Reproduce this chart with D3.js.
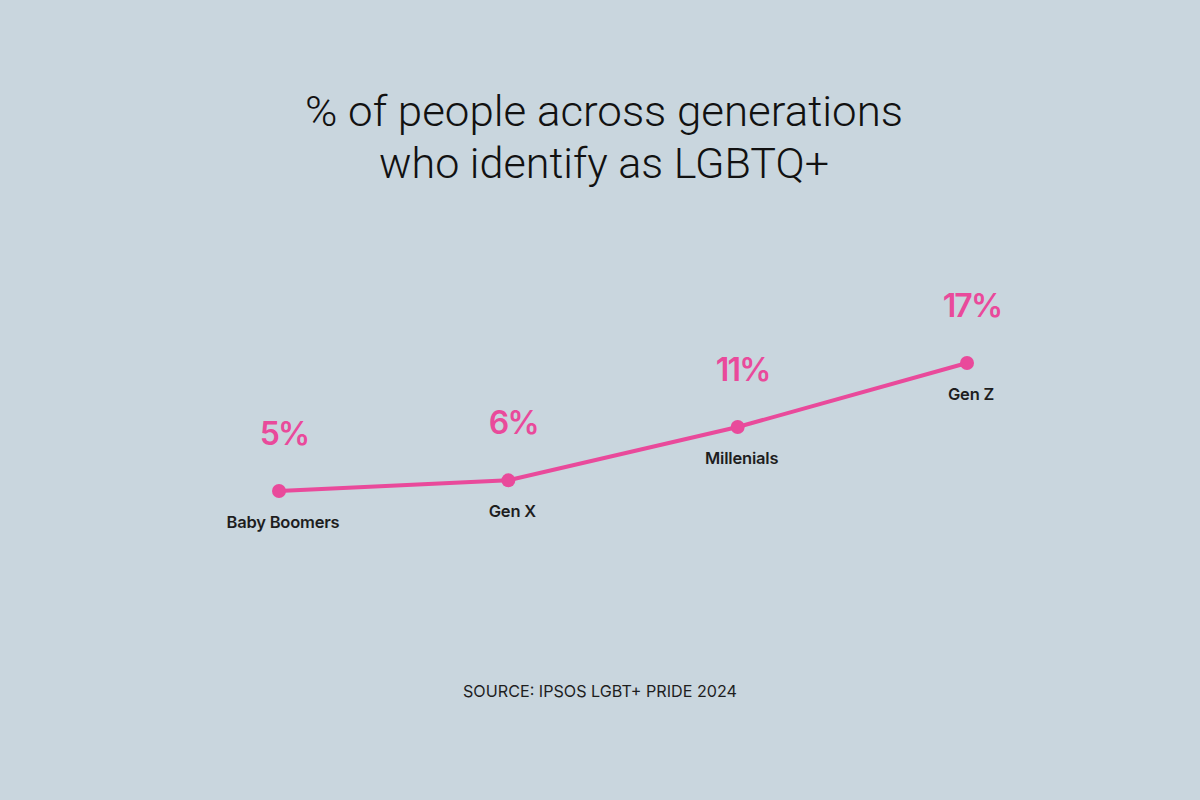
<!DOCTYPE html>
<html>
<head>
<meta charset="utf-8">
<script src="https://cdn.jsdelivr.net/npm/d3@7"></script>
<style>
  html, body { margin: 0; padding: 0; background: #c9d6de; }
  svg { display: block; }
</style>
</head>
<body>
<div id="chart"></div>
<script>
// Share identifying as LGBTQ+ by generation
const generations = ['Baby Boomers', 'Gen X', 'Millenials', 'Gen Z'];
const shares = [5, 6, 11, 17];
const titleLines = ['% of people across generations', 'who identify as LGBTQ+'];
const sourceText = 'SOURCE: IPSOS LGBT+ PRIDE 2024';

const W = 1200, H = 800;
const pink = '#e94a9b';
const ink = '#1e1e1e';

const data = generations.map((g, i) => ({ name: g, value: shares[i] }));

const svg = d3.select('#chart').append('svg')
    .attr('width', W)
    .attr('height', H);

svg.append('rect')
    .attr('width', W)
    .attr('height', H)
    .attr('fill', '#c9d6de');

// Title
const title = svg.append('g').attr('class', 'title');
const titleWidths = [598, 450];
titleLines.forEach((t, i) => {
    title.append('text')
        .attr('x', 604)
        .attr('y', 126 + i * 52)
        .attr('text-anchor', 'middle')
        .attr('textLength', titleWidths[i])
        .attr('lengthAdjust', 'spacingAndGlyphs')
        .style('font-family', 'Roboto, "Liberation Sans", sans-serif')
        .style('font-size', '43px')
        .style('font-weight', '300')
        .style('fill', '#111')
        .text(t);
});

// Scales
const xScale = d3.scalePoint()
    .domain(generations)
    .range([279, 967]);

const yScale = d3.scaleLinear()
    .domain([5, 17])
    .range([491, 363]);

// Line
const line = d3.line()
    .x(d => xScale(d.name))
    .y(d => yScale(d.value));

svg.append('path')
    .datum(data)
    .attr('d', line)
    .attr('fill', 'none')
    .attr('stroke', pink)
    .attr('stroke-width', 4)
    .attr('stroke-linejoin', 'round');

// Points
svg.selectAll('.dot')
    .data(data)
    .enter()
    .append('circle')
    .attr('class', 'dot')
    .attr('cx', d => xScale(d.name))
    .attr('cy', d => yScale(d.value))
    .attr('r', 7)
    .attr('fill', pink);

// Value labels
svg.selectAll('.value-label')
    .data(data)
    .enter()
    .append('text')
    .attr('class', 'value-label')
    .attr('x', d => xScale(d.name) + 5)
    .attr('y', d => yScale(d.value) - 46)
    .attr('text-anchor', 'middle')
    .style('font-family', 'Inter, "Noto Sans", sans-serif')
    .style('font-size', '32px')
    .style('font-weight', '600')
    .style('letter-spacing', '-1.8px')
    .style('fill', pink)
    .text(d => `${d.value}%`);

// Category labels
svg.selectAll('.cat-label')
    .data(data)
    .enter()
    .append('text')
    .attr('class', 'cat-label')
    .attr('x', d => xScale(d.name) + 4)
    .attr('y', d => yScale(d.value) + 37)
    .attr('text-anchor', 'middle')
    .style('font-family', 'Inter, "Noto Sans", sans-serif')
    .style('font-size', '16.5px')
    .style('font-weight', '600')
    .style('letter-spacing', '-0.2px')
    .style('fill', ink)
    .text(d => d.name);

// Source
svg.append('text')
    .attr('x', 600)
    .attr('y', 697)
    .attr('text-anchor', 'middle')
    .attr('textLength', 274)
    .attr('lengthAdjust', 'spacingAndGlyphs')
    .style('font-family', 'Inter, "Liberation Sans", sans-serif')
    .style('font-size', '16.5px')
    .style('font-weight', '400')
    .style('fill', ink)
    .text(sourceText);
</script>
</body>
</html>
